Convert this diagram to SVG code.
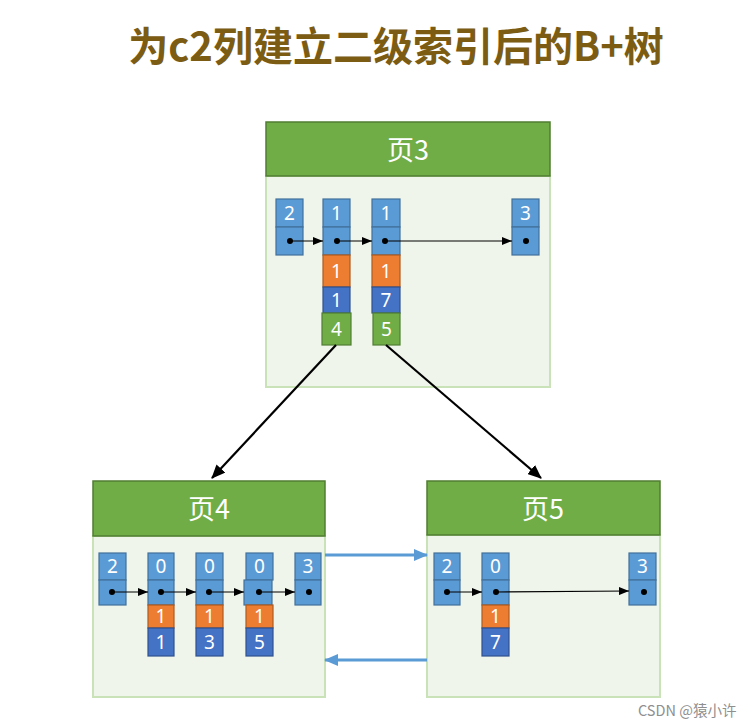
<svg xmlns="http://www.w3.org/2000/svg" width="753" height="727" viewBox="0 0 753 727">
<defs>
<style>
.title{font-family:"Noto Sans CJK SC","Noto Sans",sans-serif;font-weight:bold;font-size:40px;fill:#7B5C12}
.hdr{fill:#70AD47;stroke:#507E32;stroke-width:1.5}
.body{fill:#EFF5EA;stroke:#C9E2B8;stroke-width:2}
.htxt{font-family:"Noto Sans CJK SC","Noto Sans",sans-serif;font-size:27px;fill:#fff;text-anchor:middle}
.c{fill:#5B9BD5;stroke:#41719C;stroke-width:1.2}
.o{fill:#ED7D31;stroke:#AE5A21;stroke-width:1.2}
.d{fill:#4472C4;stroke:#2F528F;stroke-width:1.2}
.g{fill:#70AD47;stroke:#507E32;stroke-width:1.2}
.t{font-family:"Noto Sans","Liberation Sans",sans-serif;font-size:19px;fill:#fff;text-anchor:middle}
.dot{fill:#000}
.pl{stroke:#000;stroke-width:1.2;fill:none;marker-end:url(#sa)}
.big{stroke:#000;stroke-width:2.2;fill:none;marker-end:url(#ba)}
.blue{stroke:#5B9BD5;stroke-width:3;fill:none;marker-end:url(#bl)}
.wm{font-family:"Noto Sans CJK SC","Noto Sans",sans-serif;font-size:14.5px;fill:#8f8f8f}
</style>
<marker id="sa" markerWidth="10" markerHeight="8" refX="10" refY="4" orient="auto" markerUnits="userSpaceOnUse"><path d="M0,0 L10,4 L0,8 Z" fill="#000"/></marker>
<marker id="ba" markerWidth="14" markerHeight="12" refX="13" refY="6" orient="auto" markerUnits="userSpaceOnUse"><path d="M0,0 L14,6 L0,12 Z" fill="#000"/></marker>
<marker id="bl" markerWidth="14" markerHeight="12" refX="13" refY="6" orient="auto" markerUnits="userSpaceOnUse"><path d="M0,0 L14,6 L0,12 Z" fill="#5B9BD5"/></marker>
</defs>
<rect width="753" height="727" fill="#fff"/>
<text class="title" x="396" y="61" text-anchor="middle">为c2列建立二级索引后的B+树</text>

<g id="page3">
<rect class="body" x="266" y="176" width="284" height="211"/>
<rect class="hdr" x="266" y="122" width="284" height="54"/>
<text class="htxt" x="408" y="160">页3</text>
<g id="p3-r1"><rect class="c" x="276" y="199" width="27" height="28"/><rect class="c" x="276" y="227" width="27" height="28"/><text class="t" x="289.5" y="220">2</text><circle class="dot" cx="290" cy="241" r="3"/></g>
<g id="p3-r2"><rect class="c" x="323" y="199" width="27" height="28"/><rect class="c" x="323" y="227" width="27" height="28"/><rect class="o" x="323" y="255" width="27" height="32"/><rect class="d" x="323" y="287" width="27" height="26"/><rect class="g" x="322" y="313" width="29" height="32"/>
<text class="t" x="336.5" y="220">1</text><text class="t" x="336.5" y="278">1</text><text class="t" x="336.5" y="307">1</text><text class="t" x="336.5" y="336">4</text><circle class="dot" cx="337" cy="241" r="3"/></g>
<g id="p3-r3"><rect class="c" x="372" y="199" width="28" height="28"/><rect class="c" x="372" y="227" width="28" height="28"/><rect class="o" x="372" y="255" width="28" height="32"/><rect class="d" x="372" y="287" width="28" height="26"/><rect class="g" x="373" y="313" width="27" height="32"/>
<text class="t" x="386" y="220">1</text><text class="t" x="386" y="278">1</text><text class="t" x="386" y="307">7</text><text class="t" x="386.5" y="336">5</text><circle class="dot" cx="385" cy="241" r="3"/></g>
<g id="p3-r4"><rect class="c" x="512" y="199" width="27" height="28"/><rect class="c" x="512" y="227" width="27" height="28"/><text class="t" x="525.5" y="220">3</text><circle class="dot" cx="526" cy="241" r="3"/></g>
</g>

<g id="page4">
<rect class="body" x="93" y="536" width="232" height="161"/>
<rect class="hdr" x="93" y="481" width="232" height="55"/>
<text class="htxt" x="209" y="519">页4</text>
<g id="p4-r1"><rect class="c" x="99" y="553" width="27" height="27"/><rect class="c" x="99" y="580" width="27" height="25"/><text class="t" x="112.5" y="573">2</text><circle class="dot" cx="112" cy="592" r="3"/></g>
<g id="p4-r2"><rect class="c" x="148" y="553" width="26" height="27"/><rect class="c" x="148" y="580" width="26" height="25"/><rect class="o" x="148" y="605" width="26" height="23"/><rect class="d" x="148" y="628" width="26" height="28"/>
<text class="t" x="161" y="573">0</text><text class="t" x="161" y="623">1</text><text class="t" x="161" y="649">1</text><circle class="dot" cx="161" cy="592" r="3"/></g>
<g id="p4-r3"><rect class="c" x="196" y="553" width="27" height="27"/><rect class="c" x="196" y="580" width="27" height="25"/><rect class="o" x="196" y="605" width="27" height="23"/><rect class="d" x="196" y="628" width="27" height="28"/>
<text class="t" x="209.5" y="573">0</text><text class="t" x="209.5" y="623">1</text><text class="t" x="209.5" y="649">3</text><circle class="dot" cx="209" cy="592" r="3"/></g>
<g id="p4-r4"><rect class="c" x="246" y="553" width="27" height="27"/><rect class="c" x="244" y="580" width="28" height="25"/><rect class="o" x="246" y="605" width="27" height="23"/><rect class="d" x="246" y="628" width="27" height="28"/>
<text class="t" x="259.5" y="573">0</text><text class="t" x="259.5" y="623">1</text><text class="t" x="259.5" y="649">5</text><circle class="dot" cx="259" cy="592" r="3"/></g>
<g id="p4-r5"><rect class="c" x="295" y="553" width="26" height="27"/><rect class="c" x="295" y="580" width="26" height="25"/><text class="t" x="308" y="573">3</text><circle class="dot" cx="309" cy="592" r="3"/></g>
</g>

<g id="page5">
<rect class="body" x="427" y="535" width="233" height="162"/>
<rect class="hdr" x="427" y="481" width="233" height="54"/>
<text class="htxt" x="543" y="519">页5</text>
<g id="p5-r1"><rect class="c" x="434" y="553" width="26" height="27"/><rect class="c" x="434" y="580" width="26" height="25"/><text class="t" x="447" y="573">2</text><circle class="dot" cx="447" cy="592" r="3"/></g>
<g id="p5-r2"><rect class="c" x="482" y="553" width="27" height="27"/><rect class="c" x="482" y="580" width="27" height="25"/><rect class="o" x="482" y="605" width="27" height="23"/><rect class="d" x="482" y="628" width="27" height="28"/>
<text class="t" x="495.5" y="573">0</text><text class="t" x="495.5" y="623">1</text><text class="t" x="495.5" y="649">7</text><circle class="dot" cx="496" cy="592" r="3"/></g>
<g id="p5-r3"><rect class="c" x="629" y="553" width="27" height="27"/><rect class="c" x="629" y="580" width="27" height="25"/><text class="t" x="642.5" y="573">3</text><circle class="dot" cx="644" cy="592" r="3"/></g>
</g>

<g id="connectors">
<line class="pl" x1="290" y1="241" x2="323" y2="241"/>
<line class="pl" x1="337" y1="241" x2="372" y2="241"/>
<line class="pl" x1="385" y1="241" x2="512" y2="241"/>
<line class="pl" x1="112" y1="592" x2="148" y2="592"/>
<line class="pl" x1="161" y1="592" x2="196" y2="592"/>
<line class="pl" x1="209" y1="592" x2="244" y2="592"/>
<line class="pl" x1="259" y1="592" x2="295" y2="592"/>
<line class="pl" x1="447" y1="592" x2="482" y2="592"/>
<line class="pl" x1="496" y1="592" x2="629" y2="591"/>
<line class="big" x1="336" y1="345" x2="212" y2="478"/>
<line class="big" x1="386" y1="345" x2="541" y2="478"/>
<line class="blue" x1="325" y1="555" x2="427" y2="555"/>
<line class="blue" x1="427" y1="660" x2="325" y2="660"/>
</g>
<text class="wm" x="638" y="716">CSDN @猿小许</text>
</svg>
